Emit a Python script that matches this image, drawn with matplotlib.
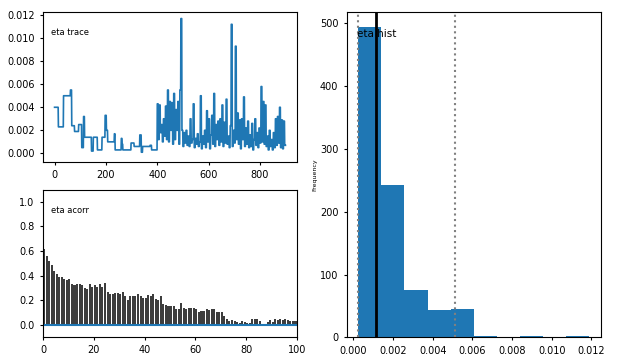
#
# eta: traza, autocorrelación e histograma
#
import numpy as np
import matplotlib
matplotlib.use("Agg")
import matplotlib.pyplot as plt

# Datos
#
# Primera parte de la traza (pasos 0-400): valor y número de pasos que se mantiene
run_vals = [0.0040, 0.0023, 0.0050, 0.0055, 0.0024, 0.0019, 0.0025, 0.0005, 0.0032, 0.0014,
            0.0002, 0.0014, 0.0003, 0.0014, 0.0033, 0.0020, 0.0010, 0.0017, 0.0003, 0.0013,
            0.0008, 0.0003, 0.0009, 0.0006, 0.0016, 0.0001, 0.0006, 0.0007, 0.0003]
run_lens = [15, 20, 27, 5, 11, 16, 12, 7, 4, 27,
            7, 16, 18, 12, 5, 5, 26, 3, 24, 3,
            3, 32, 12, 22, 6, 5, 29, 6, 22]

# Segunda parte (pasos 400-900), un valor por cada 4 pasos
noisy_vals = [0.0043, 0.0012, 0.0042, 0.0018, 0.0025, 0.0010, 0.0030, 0.0015, 0.0041, 0.0012,
              0.0055, 0.0010, 0.0045, 0.0020, 0.0044, 0.0008, 0.0052, 0.0012, 0.0038, 0.0020,
              0.0045, 0.0008, 0.0055, 0.0117, 0.0020, 0.0006, 0.0018, 0.0009, 0.0020, 0.0007,
              0.0015, 0.0006, 0.0030, 0.0009, 0.0012, 0.0043, 0.0005, 0.0013, 0.0008, 0.0017,
              0.0006, 0.0010, 0.0050, 0.0004, 0.0015, 0.0008, 0.0020, 0.0005, 0.0037, 0.0010,
              0.0030, 0.0004, 0.0016, 0.0033, 0.0008, 0.0052, 0.0006, 0.0025, 0.0012, 0.0028,
              0.0007, 0.0030, 0.0010, 0.0042, 0.0006, 0.0027, 0.0009, 0.0047, 0.0008, 0.0015,
              0.0005, 0.0024, 0.0112, 0.0006, 0.0020, 0.0009, 0.0093, 0.0012, 0.0035, 0.0008,
              0.0029, 0.0004, 0.0030, 0.0012, 0.0049, 0.0006, 0.0022, 0.0008, 0.0028, 0.0005,
              0.0016, 0.0006, 0.0026, 0.0003, 0.0012, 0.0030, 0.0007, 0.0018, 0.0005, 0.0022,
              0.0009, 0.0058, 0.0010, 0.0045, 0.0008, 0.0042, 0.0006, 0.0015, 0.0003, 0.0020,
              0.0006, 0.0012, 0.0003, 0.0018, 0.0005, 0.0030, 0.0007, 0.0032, 0.0009, 0.0040,
              0.0005, 0.0029, 0.0004, 0.0028, 0.0007]
noisy_len = 4

# Autocorrelación, retardos 0-99
acorr = [0.62, 0.56, 0.52, 0.49, 0.44, 0.41, 0.39, 0.39, 0.37, 0.36,
         0.37, 0.33, 0.32, 0.33, 0.33, 0.32, 0.30, 0.29, 0.33, 0.31,
         0.32, 0.31, 0.33, 0.31, 0.34, 0.27, 0.25, 0.25, 0.26, 0.26,
         0.25, 0.27, 0.23, 0.20, 0.23, 0.23, 0.23, 0.25, 0.23, 0.22,
         0.22, 0.24, 0.23, 0.25, 0.21, 0.20, 0.23, 0.17, 0.16, 0.15,
         0.15, 0.15, 0.13, 0.13, 0.18, 0.14, 0.13, 0.14, 0.14, 0.14,
         0.13, 0.10, 0.11, 0.11, 0.13, 0.12, 0.13, 0.13, 0.10, 0.10,
         0.10, 0.07, 0.05, 0.03, 0.04, 0.03, 0.02, 0.01, 0.03, 0.02,
         0.01, 0.01, 0.05, 0.05, 0.05, 0.03, 0.00, 0.00, 0.02, 0.04,
         0.02, 0.05, 0.04, 0.05, 0.04, 0.05, 0.04, 0.03, 0.03, 0.03]

# Histograma: límites y frecuencias de los 10 intervalos
hist_lo, hist_hi = 0.00025, 0.0119
hist_counts = [494, 243, 75, 43, 45, 2, 0, 2, 0, 2]

# Mediana e intervalo (líneas verticales)
eta_median = 0.00116
eta_interval = [0.00025, 0.00510]

# Construir la traza
trace = np.concatenate([np.repeat(run_vals, run_lens),
                        np.repeat(noisy_vals, noisy_len)])
edges = np.linspace(hist_lo, hist_hi, len(hist_counts) + 1)
centers = (edges[:-1] + edges[1:]) / 2

plt.rcParams['font.size'] = 7
plt.rcParams['xtick.major.size'] = 2.5
plt.rcParams['ytick.major.size'] = 2.5

fig = plt.figure(figsize=(6.18, 3.61), dpi=100)
ax1 = fig.add_axes([0.0696, 0.5512, 0.4110, 0.4156])
ax2 = fig.add_axes([0.0696, 0.0665, 0.4110, 0.4083])
ax3 = fig.add_axes([0.5610, 0.0657, 0.4115, 0.9019])

# Traza
ax1.plot(trace, color='C0', lw=1.2)
ax1.set_ylim(-0.00075, 0.01227)
ax1.set_yticks(np.arange(0, 0.0121, 0.002))
ax1.set_xticks([0, 200, 400, 600, 800])
ax1.text(0.03, 0.86, 'eta trace', transform=ax1.transAxes, va='center', fontsize=6)

# Autocorrelación
ax2.bar(np.arange(len(acorr)), acorr, width=0.8, align='edge', color='#3d3d3d')
ax2.axhline(0, color='C0', lw=1.5)
ax2.set_xlim(0, 100)
ax2.set_ylim(-0.1, 1.1)
ax2.set_yticks([0.0, 0.2, 0.4, 0.6, 0.8, 1.0])
ax2.text(0.03, 0.86, 'eta acorr', transform=ax2.transAxes, va='center', fontsize=6)

# Histograma
ax3.hist(centers, bins=edges, weights=hist_counts, color='C0')
ax3.axvline(eta_median, color='black', lw=2)
for q in eta_interval:
    ax3.axvline(q, color='gray', ls=':', lw=1.5)
ax3.set_xticks(np.arange(0, 0.0121, 0.002))
ax3.set_ylabel('Frequency', fontsize=4.5, labelpad=2)
ax3.text(0.04, 0.93, 'eta hist', transform=ax3.transAxes, va='center', fontsize=7.5)

fig.savefig('out.png', dpi=100)
